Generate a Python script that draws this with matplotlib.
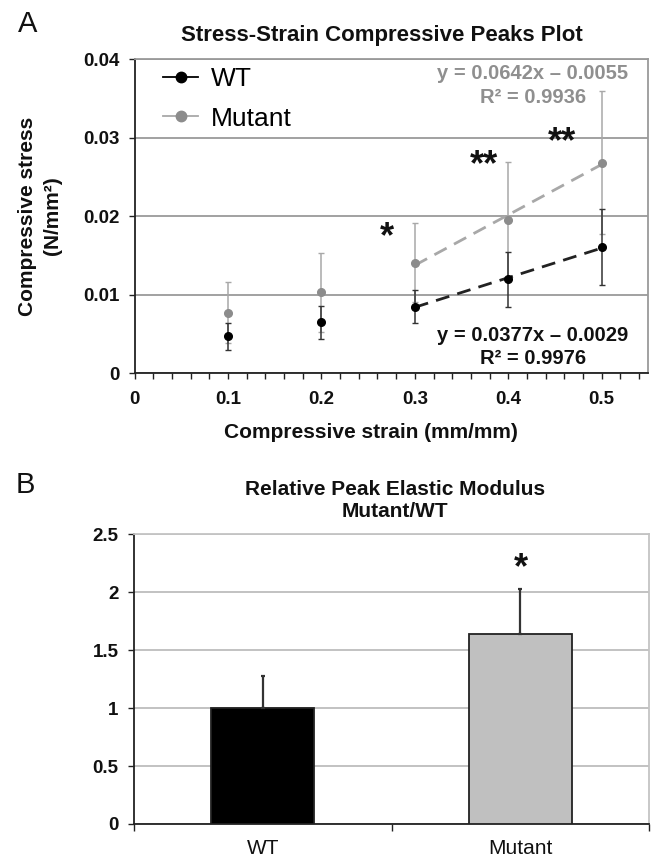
import matplotlib
matplotlib.use("Agg")
import matplotlib.pyplot as plt
import numpy as np
from matplotlib.lines import Line2D
from matplotlib.ticker import MultipleLocator, FixedLocator, FuncFormatter

plt.rcParams['font.family'] = ['Liberation Sans', 'DejaVu Sans']

# ---- Data: panel A ----
strain = [0.1, 0.2, 0.3, 0.4, 0.5]
wt_mean = [0.0047, 0.0065, 0.0085, 0.0120, 0.0161]
wt_err = [0.0017, 0.0021, 0.0021, 0.0035, 0.0048]
mut_mean = [0.0077, 0.0103, 0.0141, 0.0195, 0.0268]
mut_err = [0.0039, 0.0050, 0.0050, 0.0074, 0.0091]
wt_fit = (0.0377, -0.0029)
mut_fit = (0.0642, -0.0055)
wt_eq = "y = 0.0377x \u2013 0.0029\nR\u00b2 = 0.9976"
mut_eq = "y = 0.0642x \u2013 0.0055\nR\u00b2 = 0.9936"
star_x = [0.27, 0.374, 0.4575]
star_y = [0.0180, 0.0271, 0.0301]
star_txt = ["*", "**", "**"]

# ---- Data: panel B ----
groups = ["WT", "Mutant"]
rel_mod = [1.0, 1.64]
rel_err = [0.28, 0.39]
bar_colors = ["#000000", "#c0c0c0"]
b_star = "*"

W, H = 656, 859
fig = plt.figure(figsize=(W / 100, H / 100), dpi=100)

def fx(px):
    return px / W

def fy(py):
    return 1 - py / H

fmt_g = FuncFormatter(lambda v, p: f"{v:g}")

GRID = "#9a9a9a"
MUTC = "#8c8c8c"
MUTL = "#a8a8a8"

# ================= Panel A =================
axA = fig.add_axes([fx(134.7), fy(373.3), fx(648.3) - fx(134.7), fy(59.3) - fy(373.3)])
axA.set_xlim(0, 0.55)
axA.set_ylim(0, 0.04)
axA.yaxis.set_major_locator(MultipleLocator(0.01))
axA.yaxis.set_major_formatter(fmt_g)
axA.xaxis.set_major_locator(MultipleLocator(0.1))
axA.xaxis.set_major_formatter(fmt_g)
axA.xaxis.set_minor_locator(MultipleLocator(0.02))
axA.grid(axis='y', color=GRID, lw=1.3)
axA.set_axisbelow(True)
for s in ['top', 'right']:
    axA.spines[s].set_color(GRID)
    axA.spines[s].set_linewidth(1.3)
for s in ['left', 'bottom']:
    axA.spines[s].set_color('#222222')
    axA.spines[s].set_linewidth(1.3)
axA.tick_params(axis='y', direction='out', length=4, width=1, pad=7, labelsize=13.5, colors='#222222')
axA.tick_params(axis='x', which='both', direction='out', length=4, width=1, pad=9, labelsize=13.5, colors='#222222')
for lab in axA.get_xticklabels() + axA.get_yticklabels():
    lab.set_fontweight('bold')
    lab.set_color('#111111')

axA.errorbar(strain, mut_mean, yerr=mut_err, fmt='none', ecolor=MUTL, elinewidth=1.1,
             capsize=2.2, capthick=1, zorder=2)
axA.errorbar(strain, wt_mean, yerr=wt_err, fmt='none', ecolor='#333333', elinewidth=1.1,
             capsize=2.2, capthick=1, zorder=3)

xf = np.array(strain[2:])
axA.plot(xf, mut_fit[0] * xf + mut_fit[1], ls=(0, (5, 3)), color=MUTL, lw=2, zorder=4)
axA.plot(xf, wt_fit[0] * xf + wt_fit[1], ls=(0, (5, 3)), color='#222222', lw=2, zorder=4)

axA.plot(strain, mut_mean, 'o', color=MUTC, ms=5.5, zorder=5)
axA.plot(strain, wt_mean, 'o', color='black', ms=5.5, zorder=6)

for x, y, t in zip(star_x, star_y, star_txt):
    axA.annotate(t, (x, y), xytext=(0, -4), textcoords='offset points', ha='center', va='center',
                 fontsize=26, fontweight='bold', color='#111111')

axA.text(0.7755, 0.917, mut_eq, transform=axA.transAxes, ha='center', va='center',
         fontsize=14.5, fontweight='bold', color='#8f8f8f', linespacing=1.3)
axA.text(0.7755, 0.084, wt_eq, transform=axA.transAxes, ha='center', va='center',
         fontsize=14.5, fontweight='bold', color='#111111', linespacing=1.3)

handles = [Line2D([0], [0], color='black', marker='o', ms=7.5, lw=1.3),
           Line2D([0], [0], color=MUTL, marker='o', markerfacecolor=MUTC, markeredgecolor=MUTC, ms=7.5, lw=1.3)]
leg = axA.legend(handles, ["WT", "Mutant"], loc='upper left', bbox_to_anchor=(0.02, 1.035),
                 frameon=False, fontsize=19, handlelength=1.3, handletextpad=0.5,
                 labelspacing=0.6, borderaxespad=0.3)

fig.text(fx(381.5), fy(35), "Stress-Strain Compressive Peaks Plot", ha='center', va='center',
         fontsize=16, fontweight='bold', color='#111111')
fig.text(fx(370.8), fy(433), "Compressive strain (mm/mm)", ha='center', va='center',
         fontsize=15, fontweight='bold', color='#111111')
fig.text(fx(40), fy(216), "Compressive stress\n(N/mm\u00b2)", ha='center', va='center',
         rotation=90, fontsize=15, fontweight='bold', color='#111111', linespacing=1.4,
         multialignment='center')
fig.text(fx(28), fy(24), "A", ha='center', va='center', fontsize=21, color='#111111')

# ================= Panel B =================
axB = fig.add_axes([fx(134), fy(824), fx(649.3) - fx(134), fy(534.3) - fy(824)])
xpos = np.arange(len(groups))
axB.bar(xpos, rel_mod, width=0.4, color=bar_colors, edgecolor='#222222', linewidth=1.3, zorder=3)
axB.errorbar(xpos, rel_mod, yerr=[[0, 0], rel_err], fmt='none', ecolor='#333333',
             elinewidth=1.6, capsize=1.2, capthick=1.6, zorder=4)
axB.set_xlim(-0.5, 1.5)
axB.set_ylim(0, 2.5)
axB.yaxis.set_major_locator(MultipleLocator(0.5))
axB.yaxis.set_major_formatter(fmt_g)
axB.set_xticks(xpos)
axB.set_xticklabels(groups)
axB.xaxis.set_minor_locator(FixedLocator([-0.5, 0.5, 1.5]))
axB.grid(axis='y', color='#bdbdbd', lw=1.3)
axB.set_axisbelow(True)
for s in ['top', 'right']:
    axB.spines[s].set_color('#c4c4c4')
    axB.spines[s].set_linewidth(1.3)
for s in ['left', 'bottom']:
    axB.spines[s].set_color('#222222')
    axB.spines[s].set_linewidth(1.3)
axB.tick_params(axis='y', direction='out', length=4, width=1, pad=7, labelsize=13.5, colors='#222222')
axB.tick_params(axis='x', which='major', length=0, pad=11, labelsize=15)
axB.tick_params(axis='x', which='minor', direction='out', length=5, width=1, colors='#222222')
for lab in axB.get_yticklabels():
    lab.set_fontweight('bold')
    lab.set_color('#111111')
for lab in axB.get_xticklabels():
    lab.set_color('#111111')

axB.annotate(b_star, (xpos[1], rel_mod[1] + rel_err[1] + 0.2), xytext=(0, -2),
             textcoords='offset points', ha='center', va='center',
             fontsize=26, fontweight='bold', color='#111111')

fig.text(fx(395), fy(500.5), "Relative Peak Elastic Modulus\nMutant/WT", ha='center', va='center',
         fontsize=15, fontweight='bold', color='#111111', linespacing=1.25)
fig.text(fx(25), fy(485), "B", ha='center', va='center', fontsize=21, color='#111111')

fig.savefig("out.png", dpi=100)
